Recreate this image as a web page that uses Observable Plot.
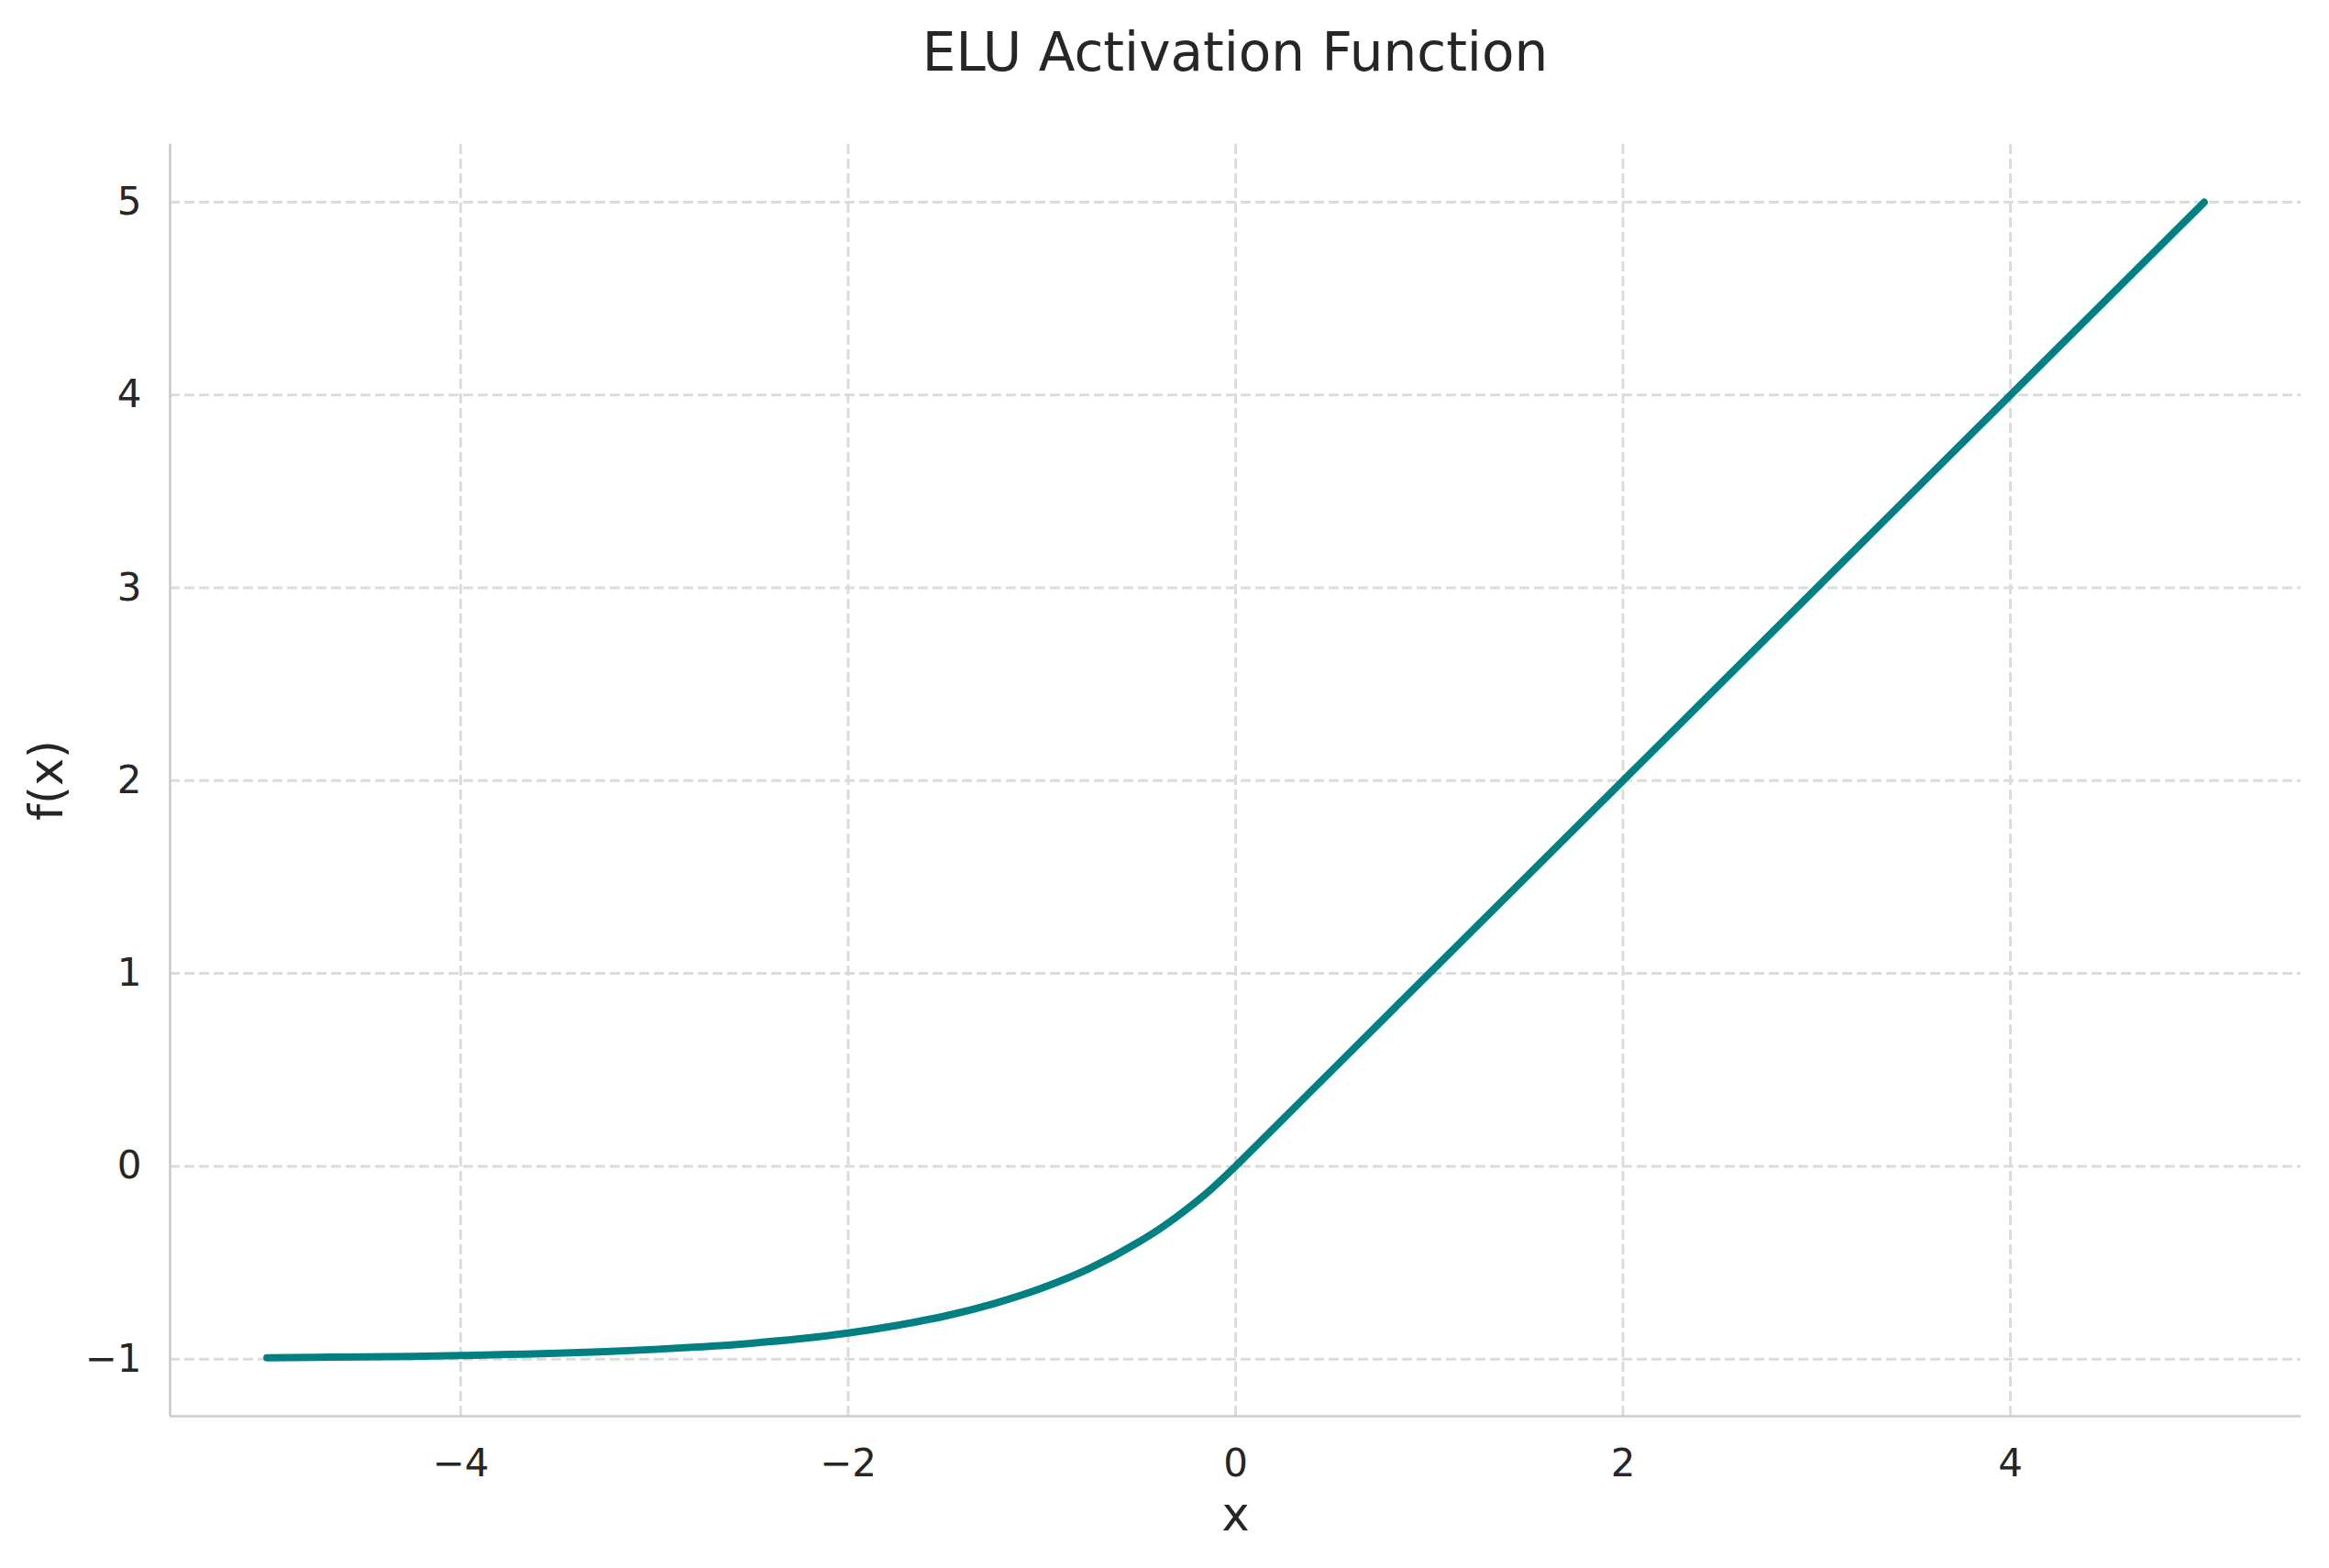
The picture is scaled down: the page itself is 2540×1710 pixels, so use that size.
<!DOCTYPE html>
<html>
<head>
<meta charset="utf-8">
<script src="https://cdn.jsdelivr.net/npm/d3@7"></script>
<script src="https://cdn.jsdelivr.net/npm/@observablehq/plot@0.6"></script>
<style>
  html, body { margin: 0; padding: 0; background: #fff; overflow: hidden; }
  #title { height: 100px; box-sizing: border-box; padding-left: 185px; padding-right: 31px;
    text-align: center; font-family: "DejaVu Sans", sans-serif; font-size: 58px; color: #262626;
    line-height: 114px; }
  #chart svg { display: block; }
</style>
</head>
<body>
<div id="title">ELU Activation Function</div>
<div id="chart"></div>
<script>
const xValues = [-5, -4.75, -4.5, -4.25, -4, -3.75, -3.5, -3.25, -3, -2.75, -2.5, -2.25, -2, -1.75, -1.5, -1.25, -1, -0.75, -0.5, -0.375, -0.25, -0.125, 0, 0.125, 0.25, 0.5, 1, 2, 3, 4, 5];
const yValues = [-0.993, -0.991, -0.989, -0.986, -0.982, -0.976, -0.970, -0.961, -0.950, -0.936, -0.918, -0.895, -0.865, -0.826, -0.777, -0.713, -0.632, -0.528, -0.393, -0.313, -0.221, -0.118, 0, 0.125, 0.25, 0.5, 1, 2, 3, 4, 5];
const xTicks = [-4, -2, 0, 2, 4];
const yTicks = [-1, 0, 1, 2, 3, 4, 5];
const xDomain = [-5.5, 5.5];
const yDomain = [-1.2966, 5.3];

const data = xValues.map((x, i) => ({x, y: yValues[i]}));
const fmt = d => d < 0 ? "\u2212" + Math.abs(d) : String(d);
const gridStyle = {stroke: "#dcdcdc", strokeOpacity: 1, strokeWidth: 3, strokeDasharray: "11,5"};

const chart = Plot.plot({
  width: 2540,
  height: 1610,
  marginTop: 57,
  marginLeft: 185,
  marginRight: 31,
  marginBottom: 66 + 100,
  style: {fontFamily: "'DejaVu Sans', sans-serif", fontSize: "42px", color: "#262626", background: "#fff"},
  x: {domain: xDomain},
  y: {domain: yDomain},
  marks: [
    Plot.gridX(xTicks, gridStyle),
    Plot.gridY(yTicks, gridStyle),
    Plot.ruleX([xDomain[0]], {stroke: "#cccccc", strokeWidth: 2.7}),
    Plot.ruleY([yDomain[0]], {stroke: "#cccccc", strokeWidth: 2.7}),
    Plot.axisX(xTicks, {tickSize: 0, tickPadding: 36, tickFormat: fmt, label: null, fill: "#262626"}),
    Plot.axisY(yTicks, {tickSize: 0, tickPadding: 31, tickFormat: fmt, label: null, fill: "#262626"}),
    Plot.line(data, {x: "x", y: "y", stroke: "#008080", strokeWidth: 8, curve: "monotone-x", strokeLinecap: "round"}),
    Plot.text(["x"], {frameAnchor: "bottom", dy: 108, text: d => d, fontSize: 51, fill: "#262626", lineAnchor: "middle", textAnchor: "middle"}),
    Plot.text(["f(x)"], {frameAnchor: "left", dx: -134, rotate: -90, text: d => d, fontSize: 51, fill: "#262626", lineAnchor: "middle", textAnchor: "middle"})
  ]
});
document.getElementById("chart").appendChild(chart);
</script>
</body>
</html>
